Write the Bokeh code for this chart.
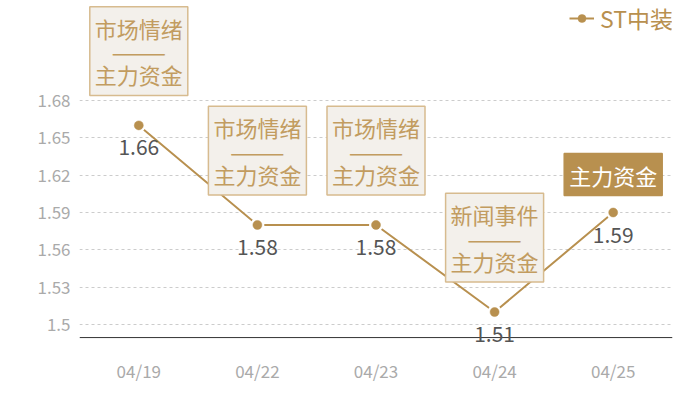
from bokeh.plotting import figure
from bokeh.models import Range1d, FixedTicker, Label, LabelSet, Legend, LegendItem, ColumnDataSource, Span
from bokeh.core.properties import value
from bokeh.embed import file_html
from bokeh.resources import INLINE

# ---- data ----
dates = ["04/19", "04/22", "04/23", "04/24", "04/25"]
values = [1.66, 1.58, 1.58, 1.51, 1.59]
ytick_values = [1.5, 1.53, 1.56, 1.59, 1.62, 1.65, 1.68]
ytick_labels = ["1.5", "1.53", "1.56", "1.59", "1.62", "1.65", "1.68"]
annotations = ["市场情绪\n———\n主力资金", "市场情绪\n———\n主力资金", "市场情绪\n———\n主力资金",
               "新闻事件\n———\n主力资金", "主力资金"]
ann_filled = [False, False, False, False, True]
series_name = "ST中装"
axis_base = 1.4895

GOLD = "#b8904f"
FONT = "Noto Sans CJK SC"

xs = list(range(len(dates)))
src = ColumnDataSource(dict(x=xs, y=values, lbl=[f"{v:.2f}" for v in values]))

PX_PER_UNIT = 1244.4
FH = 350
y0 = 1.5 - (FH - 324) / PX_PER_UNIT
p = figure(frame_width=593, frame_height=FH, width=700, height=400,
           output_backend="svg", toolbar_location=None,
           x_range=Range1d(-0.5, len(dates) - 0.5),
           y_range=Range1d(y0, y0 + FH / PX_PER_UNIT),
           min_border_left=79, min_border_right=28, min_border_top=0, min_border_bottom=50)
p.outline_line_color = None
p.background_fill_color = "white"
p.border_fill_color = "white"

# axes
p.xaxis.ticker = FixedTicker(ticks=xs)
p.xaxis.major_label_overrides = {i: d for i, d in zip(xs, dates)}
p.xaxis.axis_line_color = None
p.xaxis.major_tick_line_color = None
p.xaxis.minor_tick_line_color = None
p.xaxis.major_tick_out = 0
p.xaxis.major_label_standoff = 7
p.xaxis.major_label_text_color = "#aaaaaa"
p.xaxis.major_label_text_font = FONT
p.xaxis.major_label_text_font_size = "17px"

p.yaxis.ticker = FixedTicker(ticks=ytick_values)
p.yaxis.major_label_overrides = {v: l for v, l in zip(ytick_values, ytick_labels)}
p.yaxis.axis_line_color = None
p.yaxis.major_tick_line_color = None
p.yaxis.minor_tick_line_color = None
p.yaxis.major_tick_out = 0
p.yaxis.major_label_standoff = 9
p.yaxis.major_label_text_color = "#aaaaaa"
p.yaxis.major_label_text_font = FONT
p.yaxis.major_label_text_font_size = "17px"

p.xgrid.grid_line_color = None
p.ygrid.ticker = FixedTicker(ticks=ytick_values)
p.ygrid.grid_line_color = "#cccccc"
p.ygrid.grid_line_dash = "3 3"
p.ygrid.grid_line_width = 1

# x axis base line
p.add_layout(Span(location=axis_base, dimension="width", line_color="#333333", line_width=1))

# series
ln = p.line("x", "y", source=src, line_color=GOLD, line_width=2)
p.scatter("x", "y", source=src, size=14, fill_color="white", line_color=None)  # white ring gap
sc = p.scatter("x", "y", source=src, size=9, fill_color=GOLD, line_color=GOLD, line_width=0.5)
vals = LabelSet(x="x", y="y", text="lbl", source=src, text_align="center", text_baseline="middle",
                y_offset=-22, text_color="#555555", text_font=value(FONT), text_font_size="21px")
p.add_layout(vals)

# annotation boxes
for x, v, t, filled in zip(xs, values, annotations, ann_filled):
    lab = Label(x=x, y=v, text=t, x_offset=0, y_offset=(17 if filled else 30),
                text_align="center", text_baseline="bottom",
                text_font=FONT, text_font_size="22px", text_line_height=0.73,
                text_color=("white" if filled else "#c29c60"),
                background_fill_color=(GOLD if filled else "#f3f0eb"),
                border_line_color=(GOLD if filled else "#d7bb8f"), border_line_width=1.5,
                padding=5)
    p.add_layout(lab)

legend = Legend(items=[LegendItem(label=series_name, renderers=[ln, sc])],
                location=(490, 315), orientation="horizontal",
                background_fill_alpha=0, border_line_color=None,
                label_text_color=GOLD, label_text_font=FONT, label_text_font_size="23px",
                glyph_width=25, padding=0, margin=0, label_standoff=6)
p.add_layout(legend)

open("out.html", "w").write(file_html(p, INLINE))
